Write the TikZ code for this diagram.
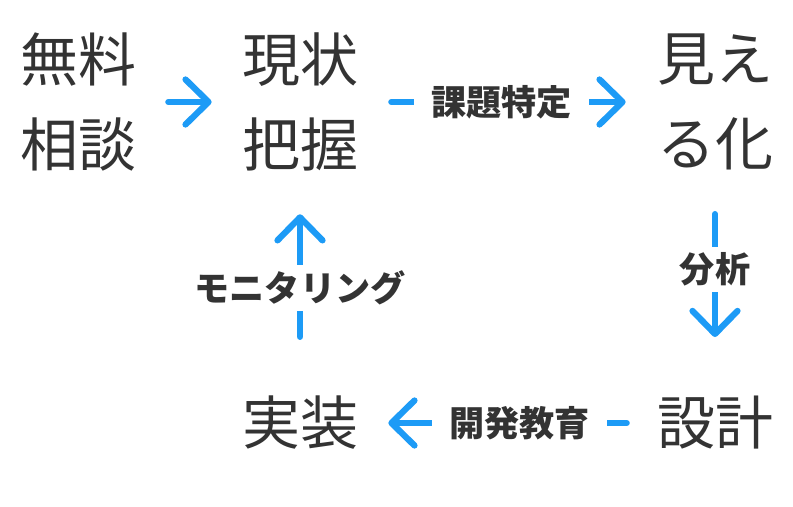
\documentclass[tikz,border=0pt]{standalone}
\usepackage{fontspec}
\usepackage{tikz}
\usetikzlibrary{arrows.meta}
\newfontfamily\jpfont{Noto Sans CJK JP}
\definecolor{ink}{HTML}{333333}
\definecolor{flow}{HTML}{1D9BF6}

\begin{document}
\begin{tikzpicture}[every node/.style={text=ink},
	stage/.style={font=\jpfont\fontsize{33}{48}\selectfont, align=center, inner sep=0pt},
	flowline/.style={flow, line width=0.125cm, line cap=round, -{Straight Barb[length=0.46cm,width=0.9cm,round]}},
	tag/.style={font=\jpfont\bfseries\fontsize{20}{24}\selectfont, fill=white, inner xsep=0.34cm, inner ysep=0.12cm}]
	\useasboundingbox (0,0) rectangle (15.86,10.14);
	% stages
	\node[stage] (soudan) at (1.56,8.1) {無料\\相談};
	\node[stage] (genjo) at (6.0,8.1) {現状\\把握};
	\node[stage] (mieruka) at (14.3,8.1) {見え\\る化};
	\node[stage] (sekkei) at (14.3,1.68) {設計};
	\node[stage] (jisso) at (6.0,1.68) {実装};
	% flow
	\draw[flowline, shorten <=0.64cm, shorten >=0.6cm] (soudan) -- (genjo);
	\draw[flowline, shorten <=0.66cm, shorten >=0.62cm] (genjo) -- node[tag, pos=0.48] {課題特定} (mieruka);
	\draw[flowline, shorten <=0.88cm, shorten >=1.18cm] (mieruka) -- node[tag, pos=0.44] {分析} (sekkei);
	\draw[flowline, shorten <=0.6cm, shorten >=0.6cm] (sekkei) -- node[tag, pos=0.46] {開発教育} (jisso);
	\draw[flowline, shorten <=1.18cm, shorten >=0.86cm] (jisso) -- node[tag, pos=0.48] {モニタリング} (genjo);
\end{tikzpicture}
\end{document}
